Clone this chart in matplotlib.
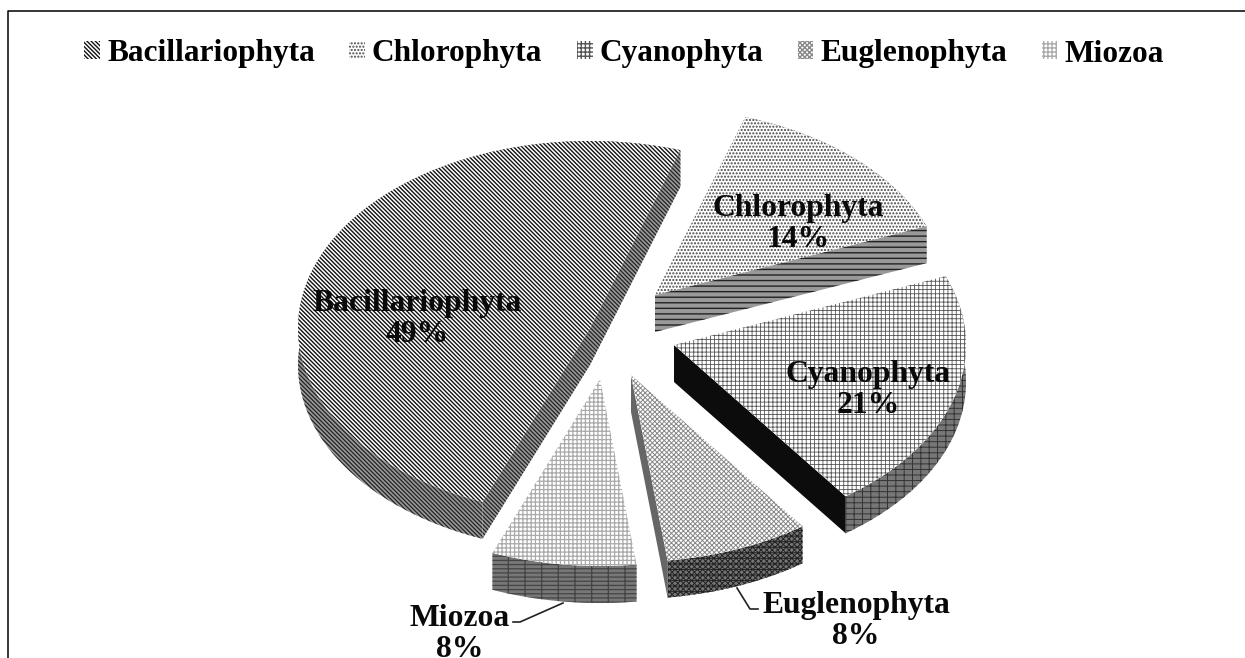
import numpy as np
import matplotlib
matplotlib.use('Agg')
from matplotlib import pyplot as plt
from matplotlib.patches import Polygon, Patch

plt.rcParams['font.family'] = ['Liberation Serif', 'DejaVu Serif']
plt.rcParams['font.weight'] = 'bold'

names = ['Bacillariophyta', 'Chlorophyta', 'Cyanophyta', 'Euglenophyta', 'Miozoa']
shares = [49, 14, 21, 8, 8]

# order the slices run round the pie, counter clockwise from the start angle
pie_order = ['Bacillariophyta', 'Miozoa', 'Euglenophyta', 'Cyanophyta', 'Chlorophyta']
start_angle = 72
rx, ry = 292, 187
depth = 37

# where each slice tip ended up after exploding, in pixels
tips = {'Bacillariophyta': (590, 328), 'Chlorophyta': (655, 295), 'Cyanophyta': (674, 345),
        'Euglenophyta': (631, 375), 'Miozoa': (600, 379)}

top_style = {'Bacillariophyta': ('\\' * 8, '#111111', 1.0),
             'Chlorophyta': ('.....', '#444444', 1.0),
             'Cyanophyta': ('++++', '#555555', 0.6),
             'Euglenophyta': ('x' * 7, '#888888', 0.7),
             'Miozoa': ('++++', '#aaaaaa', 0.9)}
wall_style = {'Bacillariophyta': ('\\' * 8, '#222222', 0.9, '#999999'),
              'Chlorophyta': ('---', '#222222', 1.0, '#999999'),
              'Cyanophyta': ('||---', '#333333', 0.7, '#777777'),
              'Euglenophyta': ('x' * 6 + '---', '#222222', 0.7, '#777777'),
              'Miozoa': ('|----', '#444444', 0.9, '#777777')}
cut_color = {'Cyanophyta': '#0c0c0c', 'Euglenophyta': '#666666'}

label_pos = {'Bacillariophyta': (417, 319), 'Chlorophyta': (798, 224), 'Cyanophyta': (868, 390),
             'Euglenophyta': (856, 621), 'Miozoa': (460, 634)}
leaders = {'Miozoa': ([563, 520, 513], [603, 622, 622]),
           'Euglenophyta': ([737, 750, 758], [588, 609, 609])}


def add_poly(ax, pts, hatch, color, lw, face='white', z=2):
    p = Polygon(pts, closed=True, facecolor=face, edgecolor=color, hatch=hatch, linewidth=0, zorder=z)
    p.set_hatch_linewidth(lw)
    ax.add_patch(p)
    return p


fig = plt.figure(figsize=(12.45, 6.58), dpi=100)
ax = fig.add_axes([0, 0, 1, 1])
ax.set_xlim(0, 1245)
ax.set_ylim(658, 0)
ax.axis('off')

total = sum(shares)
a0 = start_angle
for name in pie_order:
    span = 360 * shares[names.index(name)] / total
    t = np.radians(np.linspace(a0, a0 + span, 80))
    a0 += span
    tx, ty = tips[name]
    arc = np.column_stack([tx + rx * np.cos(t), ty - ry * np.sin(t)])
    tip = np.array([tx, ty], dtype=float)
    h, c, lw, face = wall_style[name]

    # outer wall
    low = arc + [0, depth]
    add_poly(ax, np.vstack([arc, low[::-1]]), h, c, lw, face)

    # straight cut faces, only those turned towards the viewer
    inside = arc[40] - tip
    for end in (arc[0], arc[-1]):
        d = end - tip
        normal = np.array([-d[1], d[0]])
        if normal @ inside > 0:
            normal = -normal
        if normal[1] > 0:
            quad = [tip, end, end + [0, depth], tip + [0, depth]]
            if name in cut_color:
                add_poly(ax, quad, None, cut_color[name], 0, cut_color[name], 3)
            else:
                add_poly(ax, quad, h, c, lw, face, 3)

    h, c, lw = top_style[name]
    add_poly(ax, np.vstack([tip, arc]), h, c, lw, 'white', 4)

for name, value in zip(names, shares):
    x, y = label_pos[name]
    ax.text(x, y, f'{name}\n{value}%', ha='center', va='center', fontsize=22.8, linespacing=1.05,
            color='#0a0a0a', zorder=6)
for name in leaders:
    ax.plot(*leaders[name], color='#222222', lw=1.2, zorder=5)

handles = []
for name in names:
    h, c, lw = top_style[name]
    handles.append(Patch(facecolor='white', edgecolor=c, hatch=h, linewidth=0))
ax.legend(handles, names, ncols=5, loc='center', bbox_to_anchor=(624 / 1245, 1 - 54 / 658), frameon=False,
          fontsize=22.6, handlelength=0.5, handleheight=0.5, handletextpad=0.22, columnspacing=1.1)

# the frame is cropped in the source: only left and top edges show
ax.plot([7.5, 7.5, 1245], [658, 10.5, 10.5], color='black', lw=1.1, zorder=1)

plt.savefig('out.png', dpi=100)
plt.close()
